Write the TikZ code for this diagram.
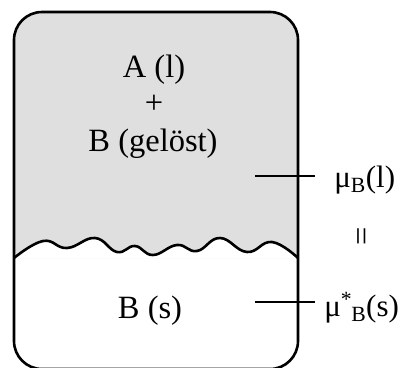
\documentclass[tikz,border=0pt]{standalone}
\usepackage{fontspec}
\setmainfont{Liberation Serif}

\begin{document}
\begin{tikzpicture}[x=1pt, y=-1pt, line width=2.6pt,
	    every node/.style={inner sep=0pt, font=\fontsize{32.5}{38}\selectfont},
	    potential/.style={anchor=base west, font=\fontsize{31}{36}\selectfont},
	    tick/.style={line width=2.4pt}]
	    \useasboundingbox (0,0) rectangle (404,367);
	    % liquid phase above the wavy boundary
	    \fill[gray!25] (14,258) [rounded corners=28pt] -- (14,12) -- (298,12) [sharp corners] -- (298,258)
	      plot[smooth, tension=0.75] coordinates {(298,258) (272,242) (247,252) (220,238)
	        (197,251) (177,245) (153,255) (135,246) (117,252) (95,238) (67,248) (43,241) (14,258)};
	    % vessel
	    \draw[rounded corners=28pt] (14,12) rectangle (298,369);
	    \draw plot[smooth, tension=0.75] coordinates {(14,258) (43,241) (67,248) (95,238)
	      (117,252) (135,246) (153,255) (177,245) (197,251) (220,238) (247,252) (272,242) (298,258)};
	    % contents
	    \node[anchor=base] (Al) at (154,77) {A (l)};
	    \node (plus) at (154,104) {+};
	    \node[anchor=base] (Bsol) at (153,151) {B (gelöst)};
	    \node[anchor=base] (Bs) at (150,318) {B (s)};
	    % potentials
	    \coordinate (liqin) at (255,176);
	    \coordinate (liqout) at (315,176);
	    \coordinate (solin) at (255,302);
	    \coordinate (solout) at (315,302);
	    \draw[tick] (liqin) -- (liqout);
	    \draw[tick] (solin) -- (solout);
	    \node[potential] (muliq) at (333,187) {μ\textsubscript{B}(l)};
	    \node[rotate=90] (equal) at (365,236) {=};
	    \node[potential] (musol) at (323,316) {μ\textsuperscript{*}\kern-1pt\textsubscript{B}(s)};
	  \end{tikzpicture}
\end{document}
